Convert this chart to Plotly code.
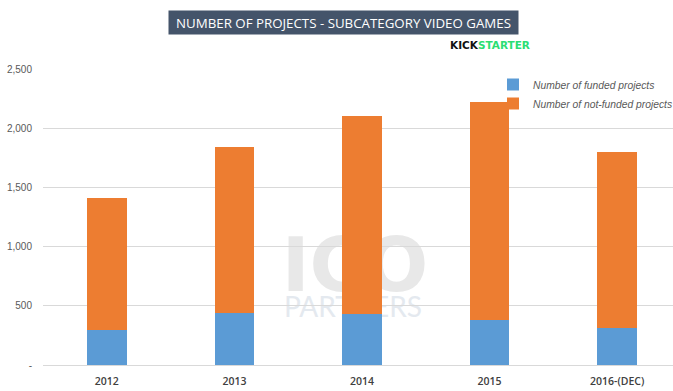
import plotly.graph_objects as go

years = ["2012", "2013", "2014", "2015", "2016-(DEC)"]
funded = [292, 440, 428, 380, 315]
total = [1410, 1841, 2106, 2220, 1797]
not_funded = [t - f for t, f in zip(total, funded)]

ytick_vals = [0, 500, 1000, 1500, 2000, 2500]
ytick_text = ["-", "500", "1,000", "1,500", "2,000", "2,500"]

W, H = 673, 391
L, R, T, B = 43, 0, 69, 26


def px_x(px):
    return (px - L) / (W - L - R)


def px_y(py):
    return (H - B - py) / (H - T - B)


fig = go.Figure()
fig.add_trace(go.Bar(x=years, y=funded, name="Number of funded projects",
                     marker=dict(color="#5B9BD5", line=dict(width=0))))
fig.add_trace(go.Bar(x=years, y=not_funded, name="Number of not-funded projects",
                     marker=dict(color="#ED7D31", line=dict(width=0))))

fig.update_layout(
    width=W, height=H,
    autosize=False,
    margin=dict(l=L, r=R, t=T, b=B, autoexpand=False),
    barmode="stack",
    bargap=0.69,
    plot_bgcolor="white",
    paper_bgcolor="white",
    font=dict(family="Liberation Sans", color="#595959"),
    legend=dict(
        x=px_x(493), y=px_y(70), xanchor="left", yanchor="top",
        traceorder="normal",
        font=dict(family="Liberation Sans", size=10.3, color="#595959", style="italic"),
        bgcolor="rgba(0,0,0,0)",
        itemwidth=30,
        tracegroupgap=0,
    ),
    xaxis=dict(
        range=[-0.5, (W - L - R) / 127.6 - 0.5],
        showgrid=False,
        showline=True, linecolor="#D9D9D9", linewidth=1,
        ticks="", ticklabelstandoff=6,
        tickfont=dict(family="Open Sans", size=10.5, color="#404040", weight=600),
        fixedrange=True,
    ),
    yaxis=dict(
        range=[0, 2500],
        tickvals=ytick_vals, ticktext=ytick_text,
        showgrid=True, gridcolor="#D9D9D9", gridwidth=1,
        zeroline=False,
        tickfont=dict(family="Liberation Sans", size=10, color="#595959"),
        ticklabelstandoff=10,
    ),
    showlegend=True,
)

# Title box
fig.add_annotation(
    xref="paper", yref="paper", x=px_x(343.5), y=px_y(23),
    text="NUMBER OF PROJECTS - SUBCATEGORY VIDEO GAMES",
    showarrow=False, xanchor="center", yanchor="middle",
    bgcolor="#44546A", width=347, height=21,
    font=dict(family="Open Sans", size=13.3, color="white", weight=500),
)
# Kickstarter logo text
fig.add_annotation(
    xref="paper", yref="paper", x=px_x(490), y=px_y(45),
    text="<b>KICK<span style='color:#2BDE73'>STARTER</span></b>",
    showarrow=False, xanchor="center", yanchor="middle",
    font=dict(family="DejaVu Sans", size=10.5, color="#111111"),
)

# Watermark (behind bars)
fig.add_shape(
    type="rect", xref="paper", yref="paper", layer="below",
    x0=px_x(280), x1=px_x(430), y0=px_y(290), y1=px_y(230),
    line=dict(width=0), fillcolor="rgba(0,0,0,0)",
    label=dict(text="<b>ICO</b>", textposition="middle center",
               font=dict(family="DejaVu Sans", size=75, color="#E8E8E8")),
)
fig.add_shape(
    type="rect", xref="paper", yref="paper", layer="below",
    x0=px_x(280), x1=px_x(426), y0=px_y(318), y1=px_y(294),
    line=dict(width=0), fillcolor="rgba(0,0,0,0)",
    label=dict(text="PARTNERS", textposition="middle center",
               font=dict(family="Lato", size=28, color="#E4E9EF")),
)

fig.write_html("out.html", config={"displayModeBar": False, "responsive": False},
               post_script="document.body.style.margin='0px';document.body.style.overflow='hidden';")
